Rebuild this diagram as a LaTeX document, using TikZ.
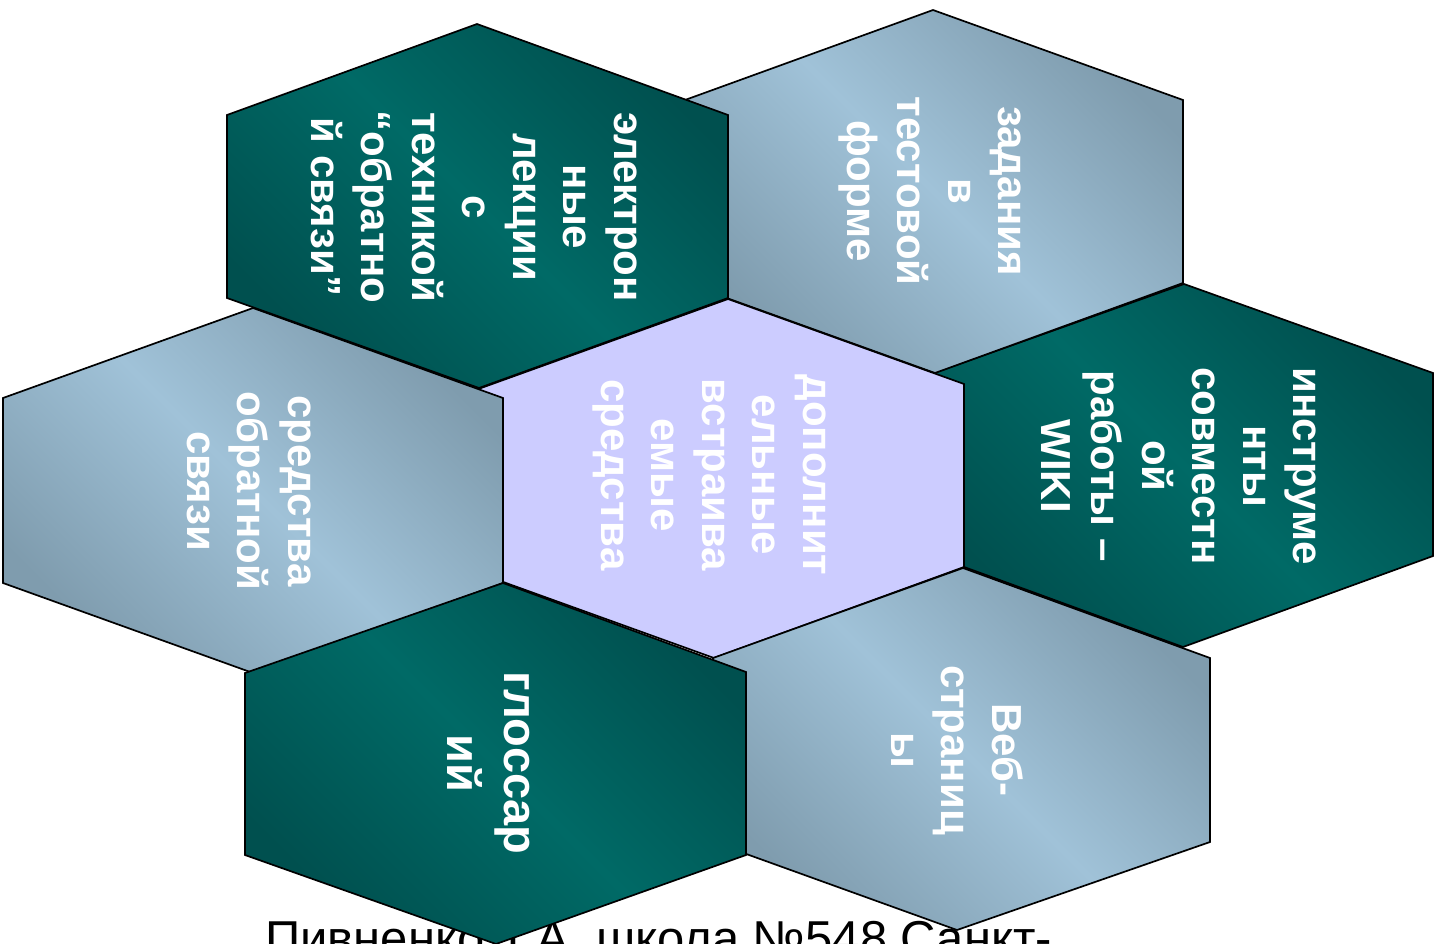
\documentclass[tikz,border=0pt]{standalone}
\usepackage{fontspec}
\setmainfont{Liberation Sans}
\definecolor{tealdark}{RGB}{0,80,79}
\definecolor{teallight}{RGB}{0,106,102}
\definecolor{steeldark}{RGB}{127,156,174}
\definecolor{steellight}{RGB}{160,194,216}
\definecolor{lavender}{RGB}{204,204,255}
\begin{document}
\begin{tikzpicture}[x=1pt,y=-1pt,
  hexline/.style={draw=black, line width=1.7pt, line join=miter},
  tealhex/.style={hexline, top color=tealdark, bottom color=tealdark, middle color=teallight, shading angle=-45},
  steelhex/.style={hexline, top color=steeldark, bottom color=steeldark, middle color=steellight, shading angle=-45},
  lavhex/.style={hexline, fill=lavender},
  lbl/.style={text=white, font=\fontsize{42}{50.5}\selectfont\bfseries, align=center, rotate=-90, inner sep=0pt},
  biglbl/.style={lbl, font=\fontsize{47}{57}\selectfont\bfseries},
  foottext/.style={text=black, font=\fontsize{49}{58}\selectfont, anchor=base west, inner sep=0pt}
]
\useasboundingbox (0,0) rectangle (1435,943);
% footer (behind the hexagons)
\node[foottext] (foot) at (265,955) {Пивненко Т.А. школа №548 Санкт-};
% right
\path[tealhex] (1184,284) -- (1433,373) -- (1433,556) -- (1183,647) -- (934,556) -- (934,373) -- cycle;
% top right
\path[steelhex] (933,10) -- (1183,100) -- (1183,283) -- (935,373) -- (685,283) -- (685,100) -- cycle;
% centre
\path[lavhex] (728,299) -- (964,384) -- (964,567) -- (714,658) -- (470,570) -- (470,392) -- cycle;
% bottom right
\path[steelhex] (963,568) -- (1210,658) -- (1210,842) -- (957,930) -- (713,842) -- (713,658) -- cycle;
% top left
\path[tealhex] (477,24) -- (728,115) -- (728,298) -- (479,388) -- (227,298) -- (227,115) -- cycle;
% left
\path[steelhex] (253,308) -- (503,398) -- (503,583) -- (253,673) -- (3,583) -- (3,398) -- cycle;
% bottom left
\path[tealhex] (503,583) -- (746,672) -- (746,855) -- (496,944) -- (245,855) -- (245,673) -- cycle;
% labels
\node[lbl] (tl) at (474,207) {электрон\\ные\\лекции\\с\\техникой\\“обратно\\й связи”};
\node[lbl] (tr) at (930,191) {задания\\в\\тестовой\\форме};
\node[lbl] (c) at (709,475) {дополнит\\ельные\\встраива\\емые\\средства};
\node[lbl] (r) at (1179,466) {инструме\\нты\\совместн\\ой\\работы –\\WIKI};
\node[lbl] (l) at (249,491) {средства\\обратной\\связи};
\node[biglbl] (bl) at (489,763) {глоссар\\ий};
\node[lbl] (br) at (957,750) {Веб-\\страниц\\ы};
\end{tikzpicture}
\end{document}
